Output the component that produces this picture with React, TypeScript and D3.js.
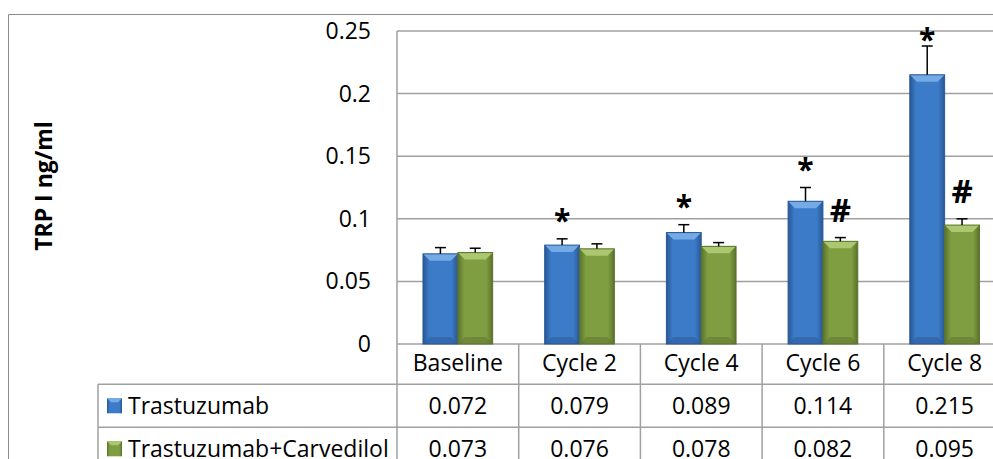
import React from 'react';
import * as d3 from 'd3';

// chart data
const categories = ['Baseline', 'Cycle 2', 'Cycle 4', 'Cycle 6', 'Cycle 8'];
const seriesNames = ['Trastuzumab', 'Trastuzumab+Carvedilol'];
const trastuzumab = [0.072, 0.079, 0.089, 0.114, 0.215];
const carvedilol = [0.073, 0.076, 0.078, 0.082, 0.095];
const trastuzumabErr = [0.005, 0.005, 0.0063, 0.011, 0.023];
const carvedilolErr = [0.0035, 0.004, 0.003, 0.003, 0.005];
const trastuzumabMarks = ['', '*', '*', '*', '*'];
const carvedilolMarks = ['', '', '', '#', '#'];
const yTicks = [0, 0.05, 0.1, 0.15, 0.2, 0.25];

const W = 993;
const H = 459;
const FONT = '"Open Sans", "Liberation Sans", sans-serif';

const plotLeft = 397;
const plotTop = 31;
const plotBottom = 344;
const catW = 121.7;
const headH = 40.3;
const rowH = 43;
const tableLeft = 98;

const palette = [
  { mid: '#3c7bc8', edge: '#285795', top: '#74abe6', bottom: '#2d5f9f' },
  { mid: '#7f9d41', edge: '#5a722c', top: '#abc76f', bottom: '#627a31' },
];

function Bar({ x, y, w, h, c, id }: any) {
  const b = Math.min(7, h / 2, w / 3);
  return (
    <g>
      <rect x={x} y={y} width={w} height={h} fill={`url(#${id})`} />
      <polygon
        points={`${x},${y} ${x + w},${y} ${x + w - b},${y + b} ${x + b},${y + b}`}
        fill={c.top}
      />
      <polygon
        points={`${x},${y + h} ${x + w},${y + h} ${x + w - b},${y + h - b} ${x + b},${y + h - b}`}
        fill={c.bottom}
        opacity={0.6}
      />
      <rect x={x} y={y} width={w} height={h} fill="none" stroke={c.edge} strokeWidth={1} />
    </g>
  );
}

export default function App() {
  const x = d3
    .scaleBand<string>()
    .domain(categories)
    .range([plotLeft, plotLeft + catW * categories.length])
    .paddingInner(0)
    .paddingOuter(0);
  const band = x.bandwidth();
  const x1 = d3
    .scaleBand<string>()
    .domain(seriesNames)
    .range([band * 0.2136, band * 0.786]);
  const y = d3.scaleLinear().domain([0, 0.25]).range([plotBottom, plotTop]);

  const series = [
    { name: seriesNames[0], values: trastuzumab, err: trastuzumabErr, marks: trastuzumabMarks },
    { name: seriesNames[1], values: carvedilol, err: carvedilolErr, marks: carvedilolMarks },
  ];

  const gridColor = '#a0a0a0';
  const row1Top = plotBottom + headH;
  const row2Top = row1Top + rowH;
  const tableBottom = row2Top + rowH;

  return (
    <svg
      width={W}
      height={H}
      style={{ position: 'absolute', left: 0, top: 0, background: '#fff' }}
      fontFamily={FONT}
    >
      <defs>
        {palette.map((c, i) => (
          <linearGradient key={i} id={`g${i}`} x1="0" x2="1" y1="0" y2="0">
            <stop offset="0" stopColor={c.edge} />
            <stop offset="0.18" stopColor={c.mid} />
            <stop offset="0.82" stopColor={c.mid} />
            <stop offset="1" stopColor={c.edge} />
          </linearGradient>
        ))}
      </defs>

      {/* chart border */}
      <line x1={8.5} x2={W} y1={14.5} y2={14.5} stroke="#8c8c8c" strokeWidth={1} />
      <line x1={8.5} x2={8.5} y1={14.5} y2={H} stroke="#8c8c8c" strokeWidth={1} />

      {/* gridlines */}
      {yTicks.map((t) => (
        <line
          key={t}
          x1={plotLeft}
          x2={W}
          y1={y(t)}
          y2={y(t)}
          stroke={gridColor}
          strokeWidth={1.5}
        />
      ))}
      <line x1={plotLeft} x2={plotLeft} y1={plotTop} y2={H} stroke={gridColor} strokeWidth={1.5} />

      {/* y tick labels */}
      {yTicks.map((t) => (
        <text
          key={'l' + t}
          x={371}
          y={y(t) + 8}
          textAnchor="end"
          fontSize={23}
          fill="#000"
        >
          {t === 0 ? '0' : String(t)}
        </text>
      ))}

      {/* y axis title */}
      <text
        transform={`translate(52,186) rotate(-90)`}
        textAnchor="middle"
        fontSize={23}
        fontWeight="bold"
        fill="#000"
      >
        TRP I ng/ml
      </text>

      {/* bars */}
      {series.map((s, si) =>
        s.values.map((v, i) => {
          const bx = (x(categories[i]) as number) + (x1(s.name) as number);
          const bw = x1.bandwidth();
          const top = y(v);
          const capY = y(v + s.err[i]);
          const cx = bx + bw / 2;
          return (
            <g key={s.name + i}>
              <Bar x={bx} y={top} w={bw} h={plotBottom - top} c={palette[si]} id={`g${si}`} />
              <line x1={cx} x2={cx} y1={top} y2={capY} stroke="#000" strokeWidth={1.5} />
              <line x1={cx - 5.5} x2={cx + 5.5} y1={capY} y2={capY} stroke="#000" strokeWidth={1.5} />
            </g>
          );
        })
      )}

      {/* significance marks */}
      {series.map((s, si) =>
        s.marks.map((m, i) => {
          if (!m) return null;
          const bx = (x(categories[i]) as number) + (x1(s.name) as number) + x1.bandwidth() / 2;
          const capY = y(s.values[i] + s.err[i]);
          if (m === '*') {
            const cy = Math.max(capY - 22, plotTop + 4.5);
            return (
              <text key={'m' + si + i} x={bx} y={cy + 14} textAnchor="middle" fontSize={30} fontWeight="bold">
                *
              </text>
            );
          }
          const cy = capY - 28;
          return (
            <text key={'m' + si + i} x={bx} y={cy + 12} textAnchor="middle" fontSize={33} fontWeight="bold">
              #
            </text>
          );
        })
      )}

      {/* data table */}
      <g stroke={gridColor} strokeWidth={1.5}>
        <line x1={tableLeft} x2={W} y1={row1Top} y2={row1Top} />
        <line x1={tableLeft} x2={W} y1={row2Top} y2={row2Top} />
        <line x1={tableLeft} x2={tableLeft} y1={row1Top} y2={tableBottom} />
        {categories.map((c, i) =>
          i === 0 ? null : (
            <line key={c} x1={x(c)} x2={x(c)} y1={plotBottom} y2={tableBottom} />
          )
        )}
      </g>

      {categories.map((c) => (
        <text
          key={'c' + c}
          x={(x(c) as number) + band / 2}
          y={plotBottom + 27}
          textAnchor="middle"
          fontSize={23}
        >
          {c}
        </text>
      ))}

      {series.map((s, si) => {
        const rowTop = si === 0 ? row1Top : row2Top;
        return (
          <g key={'row' + si}>
            <rect x={107} y={rowTop + 14} width={15} height={15} fill={`url(#g${si})`} />
            <polygon
              points={`107,${rowTop + 14} 122,${rowTop + 14} 118,${rowTop + 18} 111,${rowTop + 18}`}
              fill={palette[si].top}
            />
            <text x={128} y={rowTop + 29.5} fontSize={23}>
              {s.name}
            </text>
            {s.values.map((v, i) => (
              <text
                key={i}
                x={(x(categories[i]) as number) + band / 2}
                y={rowTop + 29.5}
                textAnchor="middle"
                fontSize={23}
              >
                {v.toFixed(3)}
              </text>
            ))}
          </g>
        );
      })}
    </svg>
  );
}
